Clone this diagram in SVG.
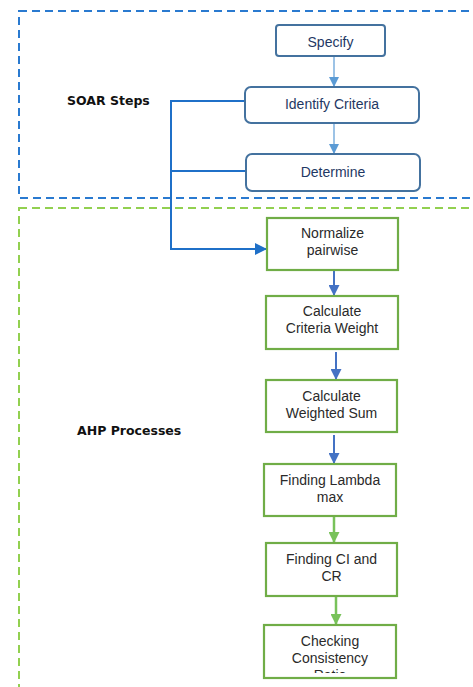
<svg xmlns="http://www.w3.org/2000/svg" width="473" height="687" viewBox="0 0 473 687">
<style>
.lbl{font-family:"DejaVu Sans",sans-serif;font-weight:bold;font-size:12.5px;fill:#111}
.st{font-family:"Liberation Sans",Arial,sans-serif;font-size:14px;fill:#1f3864;text-anchor:middle}
.at{font-family:"Liberation Sans",Arial,sans-serif;font-size:14px;fill:#2a2a2a;text-anchor:middle}
.sbox{fill:#fff;stroke:#44729f;stroke-width:2}
.abox{fill:#fff;stroke:#70ad47;stroke-width:2.2}
</style>
<defs>
<marker id="mLB" markerWidth="10" markerHeight="10" refX="9" refY="5" orient="auto" markerUnits="userSpaceOnUse"><path d="M0,0 L10,5 L0,10 z" fill="#5b9bd5"/></marker>
<marker id="mB" markerWidth="11" markerHeight="11" refX="10" refY="5.5" orient="auto" markerUnits="userSpaceOnUse"><path d="M0,0 L11,5.5 L0,11 z" fill="#4472c4"/></marker>
<marker id="mC" markerWidth="12" markerHeight="12" refX="11" refY="6" orient="auto" markerUnits="userSpaceOnUse"><path d="M0,0 L12,6 L0,12 z" fill="#1f70c8"/></marker>
<marker id="mG" markerWidth="11" markerHeight="11" refX="10" refY="5.5" orient="auto" markerUnits="userSpaceOnUse"><path d="M0,0 L11,5.5 L0,11 z" fill="#78c25a"/></marker>
<clipPath id="clipCC"><rect x="264" y="625" width="132" height="48"/></clipPath>
</defs>

<g id="soar-frame"><rect x="19" y="11" width="470" height="187" fill="none" stroke="#2a7ad0" stroke-width="2" stroke-dasharray="8,5"/></g>
<g id="ahp-frame"><rect x="19" y="208" width="470" height="500" fill="none" stroke="#92d050" stroke-width="2" stroke-dasharray="8,5"/></g>

<text class="lbl" x="67" y="105">SOAR Steps</text>
<text class="lbl" x="77" y="435">AHP Processes</text>

<g id="connectors" fill="none">
<line x1="334" y1="57" x2="334" y2="86" stroke="#5b9bd5" stroke-width="1.2" marker-end="url(#mLB)"/>
<line x1="334" y1="124" x2="334" y2="153" stroke="#5b9bd5" stroke-width="1.2" marker-end="url(#mLB)"/>
<polyline points="245,101 171,101 171,249 266,249" stroke="#1f70c8" stroke-width="2" marker-end="url(#mC)"/>
<line x1="171" y1="171" x2="246" y2="171" stroke="#1f70c8" stroke-width="2"/>
<line x1="334" y1="271" x2="334" y2="295" stroke="#4472c4" stroke-width="2" marker-end="url(#mB)"/>
<line x1="336" y1="352" x2="336" y2="379" stroke="#4472c4" stroke-width="2" marker-end="url(#mB)"/>
<line x1="334" y1="435" x2="334" y2="463" stroke="#4472c4" stroke-width="2" marker-end="url(#mB)"/>
<line x1="334" y1="517" x2="334" y2="542" stroke="#78c25a" stroke-width="2.5" marker-end="url(#mG)"/>
<line x1="336" y1="597" x2="336" y2="624" stroke="#78c25a" stroke-width="2.5" marker-end="url(#mG)"/>
</g>

<g id="specify"><rect class="sbox" x="276" y="25" width="109" height="31" rx="3"/><text class="st" x="330.5" y="47">Specify</text></g>
<g id="identify"><rect class="sbox" x="245" y="87" width="174" height="36" rx="6"/><text class="st" x="332" y="109">Identify Criteria</text></g>
<g id="determine"><rect class="sbox" x="246" y="154" width="174" height="37" rx="6"/><text class="st" x="333" y="177">Determine</text></g>

<g id="normalize"><rect class="abox" x="267" y="218" width="131" height="52"/><text class="at" x="332.5" y="238">Normalize</text><text class="at" x="332.5" y="255">pairwise</text></g>
<g id="criteria-weight"><rect class="abox" x="266" y="296" width="132" height="53"/><text class="at" x="332" y="316">Calculate</text><text class="at" x="332" y="333">Criteria Weight</text></g>
<g id="weighted-sum"><rect class="abox" x="266" y="380" width="131" height="52"/><text class="at" x="331.5" y="401">Calculate</text><text class="at" x="331.5" y="418">Weighted Sum</text></g>
<g id="lambda"><rect class="abox" x="264" y="464" width="132" height="52"/><text class="at" x="330" y="485">Finding Lambda</text><text class="at" x="330" y="502">max</text></g>
<g id="ci-cr"><rect class="abox" x="266" y="543" width="131" height="53"/><text class="at" x="331.5" y="564">Finding CI and</text><text class="at" x="331.5" y="581">CR</text></g>
<g id="consistency"><rect class="abox" x="264" y="625" width="132" height="53"/><g clip-path="url(#clipCC)"><text class="at" x="330" y="646">Checking</text><text class="at" x="330" y="663">Consistency</text><text class="at" x="330" y="680">Ratio</text></g></g>
</svg>
